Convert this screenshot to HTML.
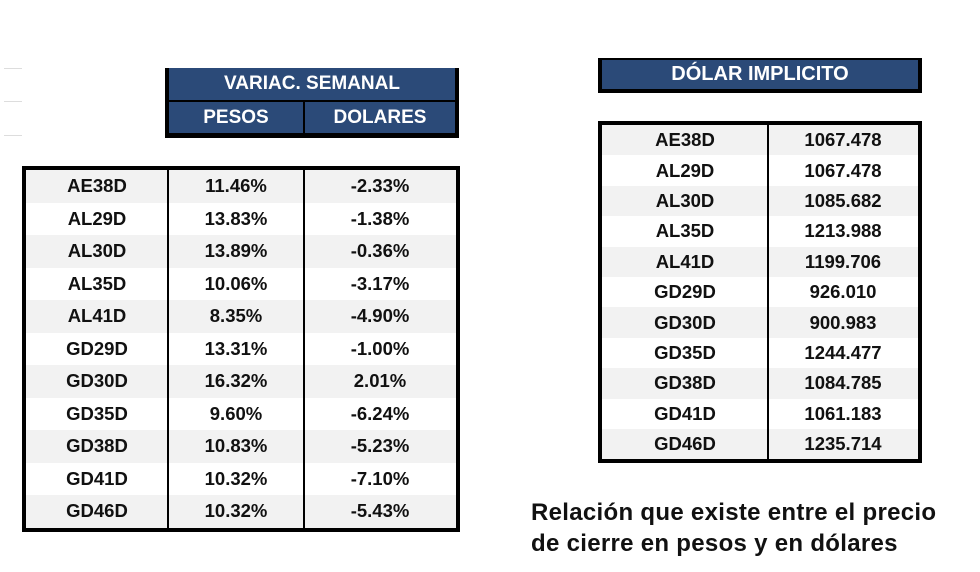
<!DOCTYPE html>
<html><head><meta charset="utf-8"><style>
body{margin:0;width:980px;height:572px;background:#fff;position:relative;overflow:hidden;font-family:"Liberation Sans",sans-serif;font-weight:bold}
.abs{position:absolute;box-sizing:border-box}
.hdr{background:#2b4a78;color:#fff;font-size:19px;display:flex;align-items:center;justify-content:center}
.cell{position:absolute;display:flex;align-items:center;justify-content:center;font-size:18.5px;color:#111}
.grid{position:absolute;background:#ddd}
</style></head><body>
<div class="grid" style="left:4px;top:68px;width:18px;height:1px"></div>
<div class="grid" style="left:4px;top:101px;width:18px;height:1px"></div>
<div class="grid" style="left:4px;top:135px;width:18px;height:1px"></div>

<div class="abs" style="left:165px;top:68px;width:294px;height:70px;border:4px solid #000;border-top:none;border-bottom-width:5px;background:#000">
  <div class="hdr" style="position:absolute;left:0;top:0;width:286px;height:32px">VARIAC. SEMANAL</div>
  <div class="hdr" style="position:absolute;left:0;top:34px;width:134px;height:31px">PESOS</div>
  <div class="hdr" style="position:absolute;left:136px;top:34px;width:150px;height:31px">DOLARES</div>
</div>
<div id="left" class="abs" style="left:22px;top:166px;width:438px;height:366px;border:4px solid #000"></div>

<div class="abs" style="left:598px;top:58px;width:324px;height:35px;border:4px solid #000;border-top-width:2px;padding:0">
  <div class="hdr" style="width:100%;height:100%;font-size:20px">DÓLAR IMPLICITO</div>
</div>
<div id="right" class="abs" style="left:598px;top:121px;width:324px;height:342px;border:4px solid #000"></div>

<div class="abs" style="left:531px;top:497px;font-size:24px;line-height:31px;color:#111;white-space:nowrap;letter-spacing:0.3px">Relación que existe entre el precio<br>de cierre en pesos y en dólares</div>

<script>
const bonds=["AE38D","AL29D","AL30D","AL35D","AL41D","GD29D","GD30D","GD35D","GD38D","GD41D","GD46D"];
const pesos=["11.46%","13.83%","13.89%","10.06%","8.35%","13.31%","16.32%","9.60%","10.83%","10.32%","10.32%"];
const dolares=["-2.33%","-1.38%","-0.36%","-3.17%","-4.90%","-1.00%","2.01%","-6.24%","-5.23%","-7.10%","-5.43%"];
const implicito=["1067.478","1067.478","1085.682","1213.988","1199.706","926.010","900.983","1244.477","1084.785","1061.183","1235.714"];
function build(id,cols,widths,rowH){
  const t=document.getElementById(id);
  let x=0;const xs=[];widths.forEach(w=>{xs.push(x);x+=w;});
  for(let i=0;i<bonds.length;i++){
    const bg=document.createElement('div');
    
    
    bg.style.cssText=`position:absolute;left:0;right:0;top:${i*rowH}px;height:${rowH}px;background:${i%2==0?'#f2f2f2':'#fff'}`;
    t.appendChild(bg);
    cols.forEach((c,j)=>{
      const d=document.createElement('div');
      d.className='cell';
      
      
      d.style.left=xs[j]+'px';d.style.width=widths[j]+'px';
      d.style.top=(i*rowH)+'px';d.style.height=rowH+'px';
      d.textContent=c[i];
      t.appendChild(d);
    });
  }
  for(let j=1;j<widths.length;j++){
    const l=document.createElement('div');
    
    
    l.style.cssText=`position:absolute;top:0;bottom:0;left:${xs[j]-1}px;width:2px;background:#000`;
    t.appendChild(l);
  }
}
build('left',[bonds,pesos,dolares],[142,136,152],32.5);
build('right',[bonds,implicito],[166,150],30.4);
</script>
</body></html>
